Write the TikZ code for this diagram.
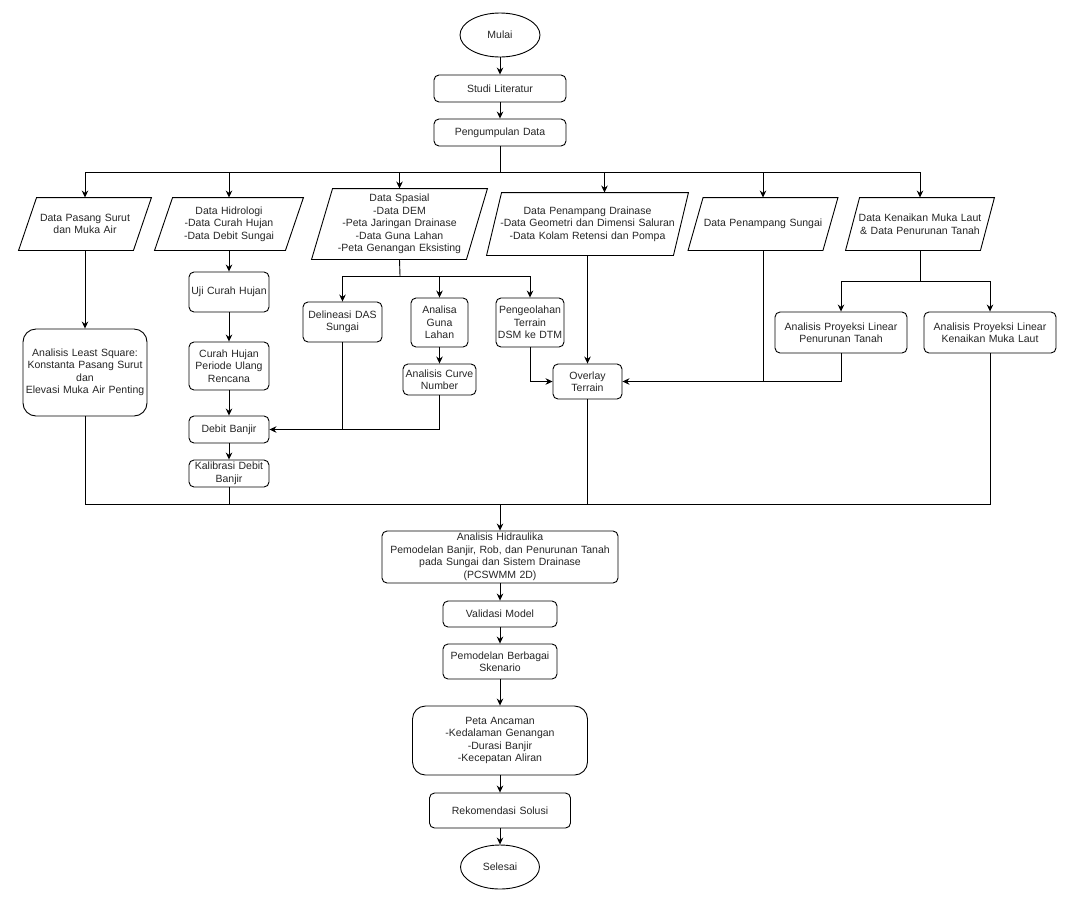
\documentclass[tikz,border=0pt]{standalone}
\usepackage{fontspec}
\setmainfont{Liberation Sans}
\usetikzlibrary{shapes.geometric,arrows.meta}
\begin{document}
\begin{tikzpicture}[x=1pt,y=-1pt,
  font=\fontsize{10.5}{12.5}\selectfont,
  line width=0.9pt,
  txt/.style={align=center, inner sep=0pt, text=black!85,
     execute at begin node={\hyphenpenalty=10000\relax}},
  bx/.style 2 args={txt, draw, rounded corners=5pt, text width=#1pt,
     minimum width=#1pt, minimum height=#2pt},
  bigbx/.style 2 args={bx={#1}{#2}, rounded corners=13pt},
  oval/.style 2 args={txt, draw, ellipse,
     minimum width=#1pt, minimum height=#2pt},
  para/.style 2 args={txt, text width=#1pt,
     minimum width=#1pt, minimum height=#2pt},
  arr/.style={-{Stealth[length=7pt,width=6.5pt]}}
]
\useasboundingbox[fill=white] (0,0) rectangle (1081,906);

% main column
\node[oval={80}{44}] (mulai) at (500,35) {Mulai};
\node[bx={132}{27}] (studi) at (500,88.5) {Studi Literatur};
\node[bx={132}{27}] (kumpul) at (500,132.5) {Pengumpulan Data};

% data parallelograms
\node[para={132}{52}] (p1) at (85,224) {Data Pasang Surut\\dan Muka Air};
\node[para={148}{52}] (p2) at (229,224) {Data Hidrologi\\-Data Curah Hujan\\-Data Debit Sungai};
\node[para={175}{70}] (p3) at (399.5,224) {Data Spasial\\-Data DEM\\-Peta Jaringan Drainase\\-Data Guna Lahan\\-Peta Genangan Eksisting};
\node[para={201}{62}] (p4) at (587.5,224) {Data Penampang Drainase\\-Data Geometri dan Dimensi Saluran\\-Data Kolam Retensi dan Pompa};
\node[para={149}{52}] (p5) at (763,224) {Data Penampang Sungai};
\node[para={148}{52}] (p6) at (920,224) {Data Kenaikan Muka Laut\\\& Data Penurunan Tanah};
\foreach \n/\s in {p1/18,p2/18,p3/21,p4/15,p5/15,p6/14}
  \draw ([xshift=\s pt]\n.north west) -- (\n.north east) -- ([xshift=-\s pt]\n.south east) -- (\n.south west) -- cycle;

% processing boxes
\node[bigbx={124}{87}] (lsq) at (85,372.5) {Analisis Least Square:\\Konstanta Pasang Surut\\dan\\Elevasi Muka Air Penting};
\node[bx={80}{40}] (uji) at (229,292) {Uji Curah Hujan};
\node[bx={80}{48}] (curah) at (229,366) {Curah Hujan\\Periode Ulang\\Rencana};
\node[bx={80}{27}] (debit) at (229,429.5) {Debit Banjir};
\node[bx={80}{27}] (kalib) at (229,473.5) {Kalibrasi Debit\\Banjir};
\node[bx={79}{40}] (delin) at (342.5,322) {Delineasi DAS\\Sungai};
\node[bx={57}{49}] (guna) at (439.5,322.5) {Analisa\\Guna\\Lahan};
\node[bx={68}{49}] (terrain) at (530,322.5) {Pengeolahan\\Terrain\\DSM ke DTM};
\node[bx={73}{31}] (cn) at (439.5,379.5) {Analisis Curve\\Number};
\node[bx={69}{35}] (overlay) at (587.5,381.5) {Overlay\\Terrain};
\node[bx={132}{41}] (pltanah) at (841,332.5) {Analisis Proyeksi Linear\\Penurunan Tanah};
\node[bx={132}{41}] (plmuka) at (990,332.5) {Analisis Proyeksi Linear\\Kenaikan Muka Laut};

% lower column
\node[bx={236}{52}] (hidr) at (500,557) {Analisis Hidraulika\\Pemodelan Banjir, Rob, dan Penurunan Tanah\\pada Sungai dan Sistem Drainase\\(PCSWMM 2D)};
\node[bx={114}{26}] (valid) at (500,614) {Validasi Model};
\node[bx={114}{35}] (sken) at (500,661.5) {Pemodelan Berbagai\\Skenario};
\node[bigbx={175}{69}] (peta) at (500,740.5) {Peta Ancaman\\-Kedalaman Genangan\\-Durasi Banjir\\-Kecepatan Aliran};
\node[bx={141}{35}] (rekom) at (500,810.5) {Rekomendasi Solusi};
\node[oval={79}{44}] (selesai) at (500,867) {Selesai};

% connectors top
\draw[arr] (mulai) -- (studi);
\draw[arr] (studi) -- (kumpul);
\coordinate (bus) at (500,172);
\draw (kumpul.south) -- (bus);
\draw[arr] (bus) -| (p1.north);
\draw[arr] (bus) -| (p2.north);
\draw[arr] (bus) -| (p3.north);
\draw[arr] (bus) -| ([xshift=17pt]p4.north);
\draw[arr] (bus) -| (p5.north);
\draw[arr] (bus) -| (p6.north);

% left branches
\draw[arr] (p1.south) -- (lsq.north);
\draw[arr] (p2.south) -- (uji.north);
\draw[arr] (uji) -- (curah);
\draw[arr] (curah) -- (debit);
\draw[arr] (debit) -- (kalib);

% spatial branch
\coordinate (sp) at (400,276);
\draw (p3.south) -- (sp);
\draw[arr] (sp) -| (delin.north);
\draw[arr] (sp) -| (guna.north);
\draw[arr] (sp) -| (terrain.north);
\draw[arr] (guna) -- (cn);
\draw[arr] (delin.south) |- (debit.east);
\draw (cn.south) |- (delin.south |- debit.east);
\draw[arr] (terrain.south) |- (overlay.west);
\draw[arr] (p4.south) -- (overlay.north);

% right branches
\coordinate (kn) at (920,281);
\draw (p6.south) -- (kn);
\draw[arr] (kn) -| (pltanah.north);
\draw[arr] (kn) -| (plmuka.north);
\draw[arr] (pltanah.south) |- (overlay.east);
\draw (p5.south) -- (p5.south |- overlay.east);

% bottom bus
\coordinate (bb) at (500,504);
\draw (lsq.south) |- (bb) -| (plmuka.south);
\draw (kalib.south) -- (kalib.south |- bb);
\draw (overlay.south) -- (overlay.south |- bb);
\draw[arr] (bb) -- (hidr.north);

% lower column connectors
\draw[arr] (hidr) -- (valid);
\draw[arr] (valid) -- (sken);
\draw[arr] (sken) -- (peta);
\draw[arr] (peta) -- (rekom);
\draw[arr] (rekom) -- (selesai);
\end{tikzpicture}
\end{document}
